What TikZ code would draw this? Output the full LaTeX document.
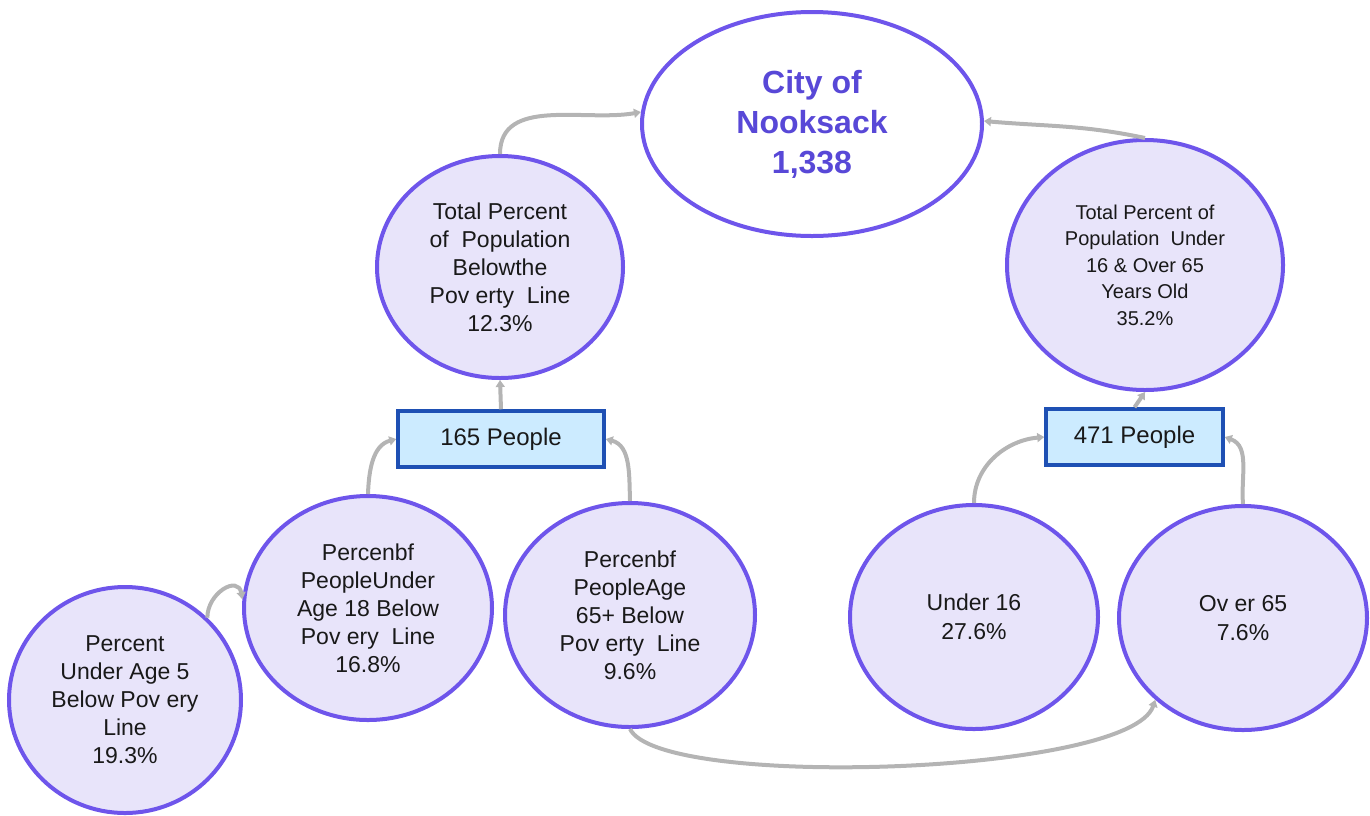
\documentclass[tikz,border=0pt]{standalone}
\usepackage{fontspec}
\setmainfont{Liberation Sans}
\usetikzlibrary{shapes.geometric,arrows.meta}
\definecolor{circborder}{RGB}{110,85,235}
\definecolor{circfill}{RGB}{232,228,250}
\definecolor{boxborder}{RGB}{30,80,180}
\definecolor{boxfill}{RGB}{204,235,255}
\definecolor{linkgray}{RGB}{180,180,180}
\definecolor{citytext}{RGB}{88,72,215}
\begin{document}
\begin{tikzpicture}[x=1pt,y=1pt,
  bubble/.style={ellipse, draw=circborder, line width=4pt, fill=circfill, inner sep=0pt, align=center, text=black!90},
  bigtext/.style={font=\fontsize{23}{28}\selectfont},
  smalltext/.style={font=\fontsize{20}{26.5}\selectfont},
  peoplebox/.style={rectangle, draw=boxborder, line width=3.5pt, fill=boxfill, inner sep=0pt, text=black!90, font=\fontsize{24}{28}\selectfont},
  link/.style={draw=linkgray, line width=4pt, -{Triangle[length=7pt,width=9pt]}}]
\useasboundingbox (0,0) rectangle (1370,-815);

% nodes
\node[bubble, fill=white, minimum width=340pt, minimum height=224pt, text=citytext, font=\fontsize{32}{40}\selectfont\bfseries] (city) at (812,-124) {City of\\Nooksack\\1,338};
\node[bubble, bigtext, minimum width=246pt, minimum height=222pt] (pov) at (500,-267) {Total Percent\\of~~Population\\Belowthe\\Pov erty~~Line\\12.3\%};
\node[bubble, smalltext, minimum width=276pt, minimum height=250pt] (rc) at (1145,-265) {Total Percent of\\Population~~Under\\16 \& Over 65\\Years Old\\35.2\%};
\node[peoplebox, minimum width=206pt, minimum height=56pt] (box165) at (501,-439) {165 People};
\node[peoplebox, minimum width=177pt, minimum height=56pt] (box471) at (1134.5,-437) {471 People};
\node[bubble, bigtext, minimum width=232pt, minimum height=226pt] (u5) at (125,-700) {Percent\\Under Age 5\\Below Pov ery\\Line\\19.3\%};
\node[bubble, bigtext, minimum width=248pt, minimum height=224pt] (u18) at (368,-608) {Percenbf\\PeopleUnder\\Age 18 Below\\Pov ery~~Line\\16.8\%};
\node[bubble, bigtext, minimum width=250pt, minimum height=224pt] (p65) at (630,-615) {Percenbf\\PeopleAge\\65+ Below\\Pov erty~~Line\\9.6\%};
\node[bubble, font=\fontsize{23}{29}\selectfont, minimum width=248pt, minimum height=224pt] (u16) at (974,-617) {Under 16\\27.6\%};
\node[bubble, font=\fontsize{23}{29}\selectfont, minimum width=248pt, minimum height=224pt] (o65) at (1243,-618) {Ov er 65\\7.6\%};

% connectors
\draw[link] (pov.north) to[out=90, in=190] (city.176);
\draw[link] (rc.north) to[out=168, in=-5] (city.1);
\draw[link] (box165.north) -- (pov.south);
\draw[link] (u18.north) to[out=88, in=195] (box165.west);
\draw[link] (p65.north) to[out=92, in=-15] (box165.east);
\draw[link] (u5.45) to[out=90, in=100, looseness=1.6] (u18.176);
\draw[link] (box471.north) -- (rc.south);
\draw[link] (u16.north) to[out=90, in=185] (box471.west);
\draw[link] (o65.north) to[out=95, in=-20] (box471.east);
\draw[link] (p65.south) .. controls (660,-790) and (1130,-775) .. (o65.223);
\end{tikzpicture}
\end{document}
